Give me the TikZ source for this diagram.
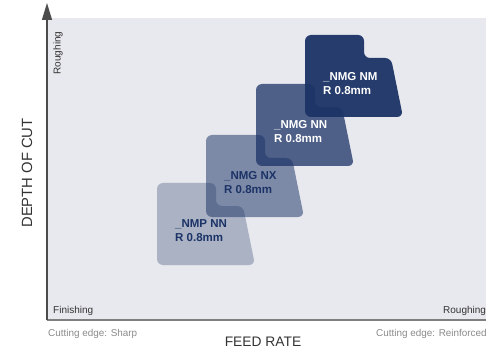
\documentclass[tikz,border=0pt]{standalone}
\usepackage{fontspec}
\setmainfont{Liberation Sans}
\usepackage{xcolor}
\usepackage{tikz}
\usetikzlibrary{arrows.meta}

\definecolor{marine}{HTML}{1B3366}
\definecolor{fondgris}{HTML}{E8E9EE}
\definecolor{axegris}{HTML}{7F7F7F}
\definecolor{texteaxe}{HTML}{333333}
\definecolor{textegris}{HTML}{8A8A8A}

\begin{document}
\begin{tikzpicture}[x=1pt,y=-1pt,
    plaquette/.pic={\fill[rounded corners=6pt,pic actions] (0,0) -- (59,0) -- (59,23) -- (86,23) -- (98,82) -- (0,82) -- cycle;},
    etiquette/.style={anchor=west,align=left,inner sep=0pt,font=\fontsize{11.5}{14}\selectfont\bfseries},
    petit/.style={inner sep=0pt,font=\fontsize{10}{12}\selectfont,text=texteaxe},
    bord/.style={inner sep=0pt,font=\fontsize{9.9}{12}\selectfont,text=textegris},
    titreaxe/.style={inner sep=0pt,font=\fontsize{13.8}{16}\selectfont,text=texteaxe}]
    \useasboundingbox (0,0) rectangle (486,355);

    % Zone du graphique
    \fill[fondgris] (47,18) rectangle (486,320);

    % Axes
    \coordinate (O) at (47,320);
    \coordinate (haut) at (47,3);
    \coordinate (droite) at (486,320);
    \draw[axegris,line width=1.5pt] (O) -- (droite);
    \draw[black!70,line width=1.2pt,-{Triangle[length=17pt,width=10pt]}] (O) -- (haut);

    % Plaquettes
    \pic[fill=marine,fill opacity=0.3] at (157,183) {plaquette};
    \pic[fill=marine,fill opacity=0.52] at (206,135) {plaquette};
    \pic[fill=marine,fill opacity=0.75] at (256,84) {plaquette};
    \pic[fill=marine,fill opacity=0.95] at (305,35) {plaquette};

    % Noms des plaquettes
    \node[etiquette,text=marine] (nmp) at (175,231) {\_NMP NN\\R 0.8mm};
    \node[etiquette,text=marine] (nx) at (224,183) {\_NMG NX\\R 0.8mm};
    \node[etiquette,text=white] (nn) at (274,132) {\_NMG NN\\R 0.8mm};
    \node[etiquette,text=white] (nm) at (323,84) {\_NMG NM\\R 0.8mm};

    % Textes des axes
    \node[titreaxe,rotate=90,font=\fontsize{14.8}{17}\selectfont] (prof) at (27,173) {DEPTH OF CUT};
    \node[titreaxe] (avance) at (263,342) {FEED RATE};
    \node[petit,rotate=90] (ebauche) at (58,53) {Roughing};
    \node[petit,anchor=west] (finition) at (53,311) {Finishing};
    \node[petit,anchor=west] (ebauche2) at (443,311) {Roughing};
    \node[bord,anchor=west] (vif) at (48,334) {Cutting edge: Sharp};
    \node[bord,anchor=west] (renforce) at (376,334) {Cutting edge: Reinforced};
\end{tikzpicture}
\end{document}
